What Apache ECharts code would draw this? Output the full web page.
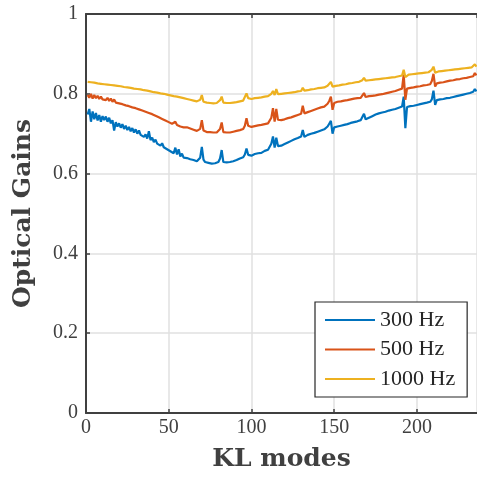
<!DOCTYPE html>
<html>
<head>
<meta charset="utf-8">
<script src="https://cdn.jsdelivr.net/npm/echarts@6/dist/echarts.min.js"></script>
<style>
html,body{margin:0;padding:0;background:#fff;}
#chart{width:477px;height:479px;}
</style>
</head>
<body>
<div id="chart"></div>
<script>
const seriesNames = ['300 Hz', '500 Hz', '1000 Hz'];
const xTicks = [0, 50, 100, 150, 200];
const yTicks = [0, 0.2, 0.4, 0.6, 0.8, 1];

const gain300 = [
0.748,0.762,0.730,0.756,0.736,0.752,0.733,0.747,0.730,0.744,
0.734,0.743,0.730,0.740,0.726,0.734,0.708,0.729,0.718,0.726,
0.715,0.724,0.712,0.720,0.709,0.717,0.706,0.714,0.703,0.711,
0.700,0.708,0.697,0.702,0.692,0.698,0.688,0.706,0.684,0.690,
0.679,0.685,0.675,0.680,0.670,0.676,0.666,0.671,0.661,0.666,
0.656,0.660,0.651,0.665,0.648,0.661,0.643,0.650,0.640,0.645,
0.639,0.640,0.636,0.637,0.634,0.633,0.631,0.632,0.640,0.667,
0.635,0.629,0.630,0.627,0.628,0.625,0.627,0.626,0.627,0.629,
0.638,0.659,0.629,0.627,0.628,0.627,0.629,0.630,0.631,0.633,
0.634,0.636,0.638,0.639,0.641,0.648,0.663,0.647,0.643,0.645,
0.647,0.649,0.648,0.651,0.653,0.652,0.655,0.657,0.659,0.660,
0.662,0.675,0.693,0.665,0.690,0.669,0.668,0.670,0.672,0.674,
0.676,0.678,0.680,0.682,0.685,0.686,0.688,0.689,0.691,0.693,
0.709,0.692,0.695,0.697,0.698,0.700,0.701,0.702,0.704,0.705,
0.707,0.708,0.710,0.711,0.713,0.718,0.725,0.732,0.700,0.716,
0.718,0.718,0.719,0.720,0.721,0.722,0.723,0.724,0.725,0.727,
0.728,0.729,0.730,0.731,0.733,0.734,0.738,0.750,0.736,0.738,
0.740,0.742,0.744,0.746,0.748,0.751,0.751,0.752,0.753,0.754,
0.755,0.757,0.758,0.759,0.760,0.761,0.762,0.764,0.765,0.766,
0.768,0.793,0.714,0.767,0.768,0.769,0.770,0.770,0.771,0.772,
0.773,0.774,0.775,0.776,0.777,0.778,0.779,0.780,0.786,0.808,
0.772,0.784,0.785,0.786,0.787,0.787,0.788,0.789,0.790,0.790,
0.791,0.792,0.793,0.794,0.795,0.796,0.797,0.798,0.799,0.800,
0.801,0.802,0.803,0.805,0.812,0.806
];

const gain500 = [
0.797,0.790,0.800,0.788,0.797,0.789,0.795,0.787,0.793,0.786,
0.791,0.784,0.790,0.782,0.788,0.780,0.786,0.778,0.782,0.776,
0.780,0.774,0.778,0.771,0.776,0.769,0.773,0.766,0.771,0.764,
0.768,0.761,0.765,0.758,0.762,0.755,0.759,0.752,0.756,0.749,
0.752,0.745,0.748,0.741,0.745,0.737,0.741,0.733,0.737,0.729,
0.732,0.725,0.728,0.730,0.722,0.726,0.718,0.721,0.716,0.719,
0.716,0.715,0.713,0.712,0.710,0.709,0.707,0.706,0.712,0.734,
0.708,0.705,0.704,0.703,0.704,0.702,0.703,0.702,0.703,0.705,
0.712,0.728,0.704,0.703,0.703,0.702,0.703,0.704,0.705,0.706,
0.707,0.708,0.709,0.710,0.712,0.720,0.739,0.720,0.716,0.717,
0.718,0.719,0.720,0.721,0.722,0.722,0.723,0.724,0.725,0.726,
0.727,0.740,0.764,0.730,0.762,0.735,0.733,0.734,0.735,0.736,
0.737,0.739,0.740,0.741,0.743,0.744,0.745,0.747,0.748,0.750,
0.770,0.751,0.753,0.754,0.756,0.757,0.758,0.760,0.761,0.763,
0.764,0.766,0.767,0.768,0.770,0.775,0.782,0.793,0.760,0.777,
0.779,0.780,0.780,0.781,0.782,0.783,0.783,0.784,0.785,0.786,
0.787,0.788,0.788,0.789,0.790,0.790,0.794,0.802,0.792,0.793,
0.794,0.794,0.795,0.796,0.796,0.797,0.798,0.799,0.799,0.800,
0.801,0.802,0.803,0.804,0.805,0.806,0.807,0.809,0.810,0.811,
0.813,0.848,0.785,0.813,0.814,0.815,0.815,0.816,0.817,0.818,
0.819,0.819,0.820,0.821,0.821,0.822,0.823,0.824,0.832,0.850,
0.818,0.826,0.827,0.828,0.828,0.829,0.830,0.831,0.832,0.833,
0.834,0.834,0.835,0.836,0.836,0.837,0.838,0.839,0.839,0.840,
0.841,0.842,0.843,0.844,0.852,0.846
];

const gain1000 = [
0.830,0.828,0.829,0.827,0.828,0.826,0.826,0.825,0.825,0.824,
0.824,0.823,0.823,0.822,0.822,0.821,0.821,0.820,0.820,0.819,
0.819,0.818,0.817,0.817,0.816,0.815,0.815,0.814,0.813,0.813,
0.812,0.811,0.811,0.810,0.809,0.809,0.808,0.807,0.806,0.805,
0.804,0.803,0.803,0.802,0.801,0.804,0.800,0.799,0.798,0.797,
0.796,0.795,0.794,0.794,0.793,0.792,0.791,0.790,0.789,0.788,
0.787,0.786,0.785,0.784,0.783,0.782,0.781,0.780,0.785,0.797,
0.780,0.779,0.778,0.778,0.777,0.777,0.776,0.776,0.777,0.779,
0.784,0.793,0.778,0.777,0.777,0.776,0.777,0.777,0.778,0.778,
0.779,0.780,0.781,0.782,0.783,0.788,0.801,0.789,0.786,0.787,
0.788,0.789,0.789,0.790,0.791,0.791,0.792,0.793,0.794,0.794,
0.795,0.800,0.807,0.797,0.812,0.799,0.799,0.800,0.800,0.801,
0.802,0.802,0.803,0.803,0.804,0.804,0.805,0.806,0.806,0.807,
0.815,0.808,0.809,0.809,0.810,0.811,0.811,0.812,0.813,0.814,
0.814,0.815,0.816,0.816,0.817,0.820,0.824,0.830,0.818,0.819,
0.820,0.821,0.821,0.822,0.823,0.823,0.824,0.825,0.826,0.827,
0.827,0.828,0.829,0.829,0.830,0.831,0.834,0.840,0.833,0.833,
0.834,0.834,0.835,0.835,0.836,0.836,0.837,0.837,0.838,0.838,
0.839,0.839,0.840,0.840,0.841,0.841,0.842,0.843,0.844,0.845,
0.846,0.860,0.842,0.847,0.848,0.848,0.849,0.850,0.850,0.851,
0.851,0.852,0.852,0.853,0.853,0.854,0.854,0.855,0.860,0.868,
0.853,0.856,0.856,0.857,0.857,0.858,0.858,0.859,0.859,0.860,
0.860,0.861,0.861,0.862,0.862,0.863,0.863,0.864,0.864,0.865,
0.865,0.866,0.866,0.867,0.874,0.868
];

const colors = ['#0072BD', '#D95319', '#EDB120'];
const allData = [gain300, gain500, gain1000];
const FONT = '"Liberation Serif", "DejaVu Serif", serif';
const TFONT = '"DejaVu Serif", "Liberation Serif", serif';
const AXC = '#404040';

const chart = echarts.init(document.getElementById('chart'), null, {renderer: 'canvas'});

const xFmt = v => (xTicks.indexOf(v) >= 0 ? String(v) : '');
const yFmt = v => (yTicks.some(t => Math.abs(t - v) < 1e-9) ? String(+v.toFixed(1)) : '');

const option = {
  animation: false,
  backgroundColor: '#ffffff',
  grid: {left: 86, right: 0, top: 14, bottom: 66, containLabel: false},
  legend: {
    orient: 'vertical',
    left: 315,
    top: 302,
    padding: [7, 12, 7, 10],
    itemGap: 7.5,
    itemWidth: 50,
    itemHeight: 22,
    backgroundColor: '#ffffff',
    borderColor: '#262626',
    borderWidth: 1.2,
    borderRadius: 0,
    textStyle: {fontFamily: FONT, fontSize: 22, color: '#262626'},
    data: seriesNames.map(n => ({name: n, icon: 'path://M0,0 L50,0 L50,2 L0,2 Z'}))
  },
  xAxis: [{
    type: 'value', min: 0, max: 236.3, interval: 50,
    name: 'KL modes', nameLocation: 'middle', nameGap: 34,
    nameTextStyle: {fontFamily: TFONT, fontSize: 25, fontWeight: 'bold', color: AXC},
    axisLine: {show: true, onZero: false, lineStyle: {color: AXC, width: 2}},
    axisTick: {show: true, inside: true, length: 4, lineStyle: {color: AXC, width: 1.5}},
    axisLabel: {fontFamily: FONT, fontSize: 20, color: AXC, margin: 5, formatter: xFmt, showMaxLabel: false},
    splitLine: {show: true, lineStyle: {color: '#e0e0e0', width: 1.5}}
  }, {
    type: 'value', position: 'top', min: 0, max: 236.3, interval: 50,
    axisLine: {show: true, onZero: false, lineStyle: {color: AXC, width: 2}},
    axisTick: {show: true, inside: true, length: 4, lineStyle: {color: AXC, width: 1.5}},
    axisLabel: {show: false},
    splitLine: {show: false}
  }],
  yAxis: [{
    type: 'value', min: 0, max: 1, interval: 0.2,
    name: 'Optical Gains', nameLocation: 'middle', nameGap: 50, nameRotate: 90,
    nameTextStyle: {fontFamily: TFONT, fontSize: 25, fontWeight: 'bold', color: AXC},
    axisLine: {show: true, onZero: false, lineStyle: {color: AXC, width: 2}},
    axisTick: {show: true, inside: true, length: 4, lineStyle: {color: AXC, width: 1.5}},
    axisLabel: {fontFamily: FONT, fontSize: 20, color: AXC, margin: 8, formatter: yFmt},
    splitLine: {show: true, lineStyle: {color: '#e0e0e0', width: 1.5}}
  }],
  series: allData.map((arr, k) => ({
    name: seriesNames[k],
    type: 'line',
    xAxisIndex: 0,
    showSymbol: false,
    symbol: 'none',
    color: colors[k],
    lineStyle: {color: colors[k], width: 2.2},
    itemStyle: {color: colors[k]},
    data: arr.map((v, i) => [i + 1, v]),
    z: 3 + k
  }))
};
chart.setOption(option);
</script>
</body>
</html>
